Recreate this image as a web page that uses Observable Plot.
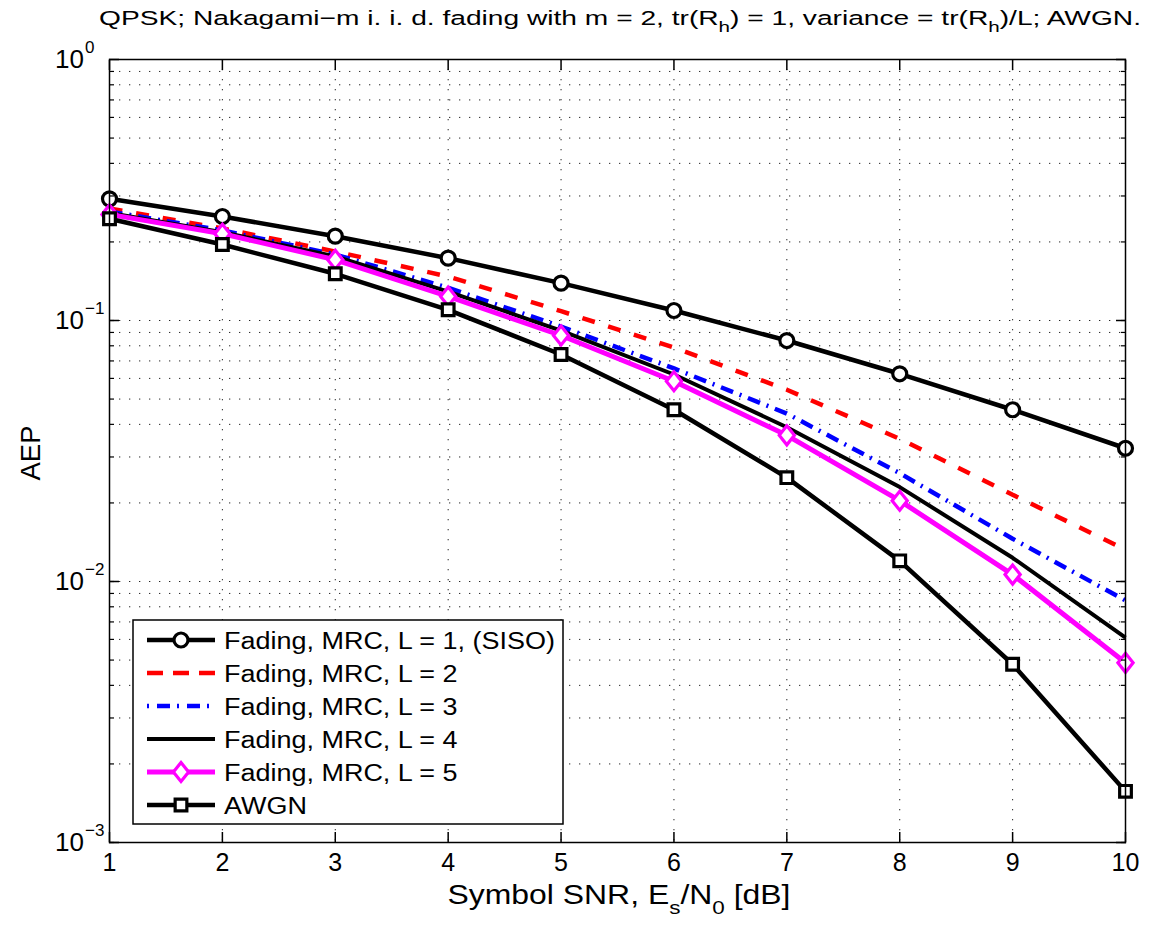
<!DOCTYPE html>
<html><head><meta charset="utf-8">
<script src="https://cdn.jsdelivr.net/npm/d3@7"></script>
<script src="https://cdn.jsdelivr.net/npm/@observablehq/plot@0.6"></script>
<style>
body{margin:0;background:#fff;}
svg{font-family:"Liberation Sans",Arial,Helvetica,sans-serif;}
</style>
</head><body><div id="chart"></div>
<script>
// ---- data ----
const snr = [1, 2, 3, 4, 5, 6, 7, 8, 9, 10];
const aepL1 = [0.2925, 0.2503, 0.2104, 0.1733, 0.1390, 0.1092, 0.0838, 0.0625, 0.0455, 0.0324];
const aepL2 = [0.2686, 0.2252, 0.1838, 0.1474, 0.1086, 0.0788, 0.0543, 0.0352, 0.0215, 0.01323];
const aepL3 = [0.2616, 0.2213, 0.1790, 0.1334, 0.0948, 0.0655, 0.0440, 0.0260, 0.01458, 0.00846];
const aepL4 = [0.2580, 0.2180, 0.1760, 0.1290, 0.0915, 0.0621, 0.0390, 0.0230, 0.01233, 0.00609];
const aepL5 = [0.2550, 0.2150, 0.1709, 0.1236, 0.0876, 0.0585, 0.0363, 0.0204, 0.01063, 0.00488];
const aepAWGN = [0.2453, 0.1955, 0.1510, 0.1099, 0.0741, 0.0455, 0.0250, 0.0120, 0.00482, 0.00157];
const seriesNames = ["Fading, MRC, L = 1, (SISO)", "Fading, MRC, L = 2", "Fading, MRC, L = 3",
                     "Fading, MRC, L = 4", "Fading, MRC, L = 5", "AWGN"];
const xTickValues = [1, 2, 3, 4, 5, 6, 7, 8, 9, 10];
const yTickValues = [1, 0.1, 0.01, 0.001];
const yTickExponents = ["0", "\u22121", "\u22122", "\u22123"];
const titleText = "QPSK; Nakagami\u2212m i. i. d. fading with m = 2, tr(R";

// ---- styles ----
const diamondSym = {draw(ctx, size) {
  const r = Math.sqrt(size / Math.PI), w = r * 0.8;
  ctx.moveTo(0, -r); ctx.lineTo(w, 0); ctx.lineTo(0, r); ctx.lineTo(-w, 0); ctx.closePath();
}};
const allValues = [aepL1, aepL2, aepL3, aepL4, aepL5, aepAWGN];
const styles = [
  {stroke: "#000", width: 4.5, dash: null, symbol: "circle", r: 7},
  {stroke: "#ff0000", width: 4.5, dash: "13,14", symbol: null},
  {stroke: "#0000ff", width: 4.5, dash: "13,7,2,7", symbol: null},
  {stroke: "#000", width: 4, dash: null, symbol: null},
  {stroke: "#ff00ff", width: 5, dash: null, symbol: diamondSym, r: 9.5},
  {stroke: "#000", width: 4.5, dash: null, symbol: "square", r: 6.6}
];
const series = seriesNames.map((name, k) => ({name, ...styles[k],
  data: snr.map((x, i) => ({snr: x, aep: allValues[k][i]}))}));

// grid values
const minorY = [];
for (let e = -3; e < 0; e++) for (let m = 1; m <= 9; m++) minorY.push(m * Math.pow(10, e));
const gridY = minorY.filter(v => v > 0.001);
const gridX = xTickValues.filter(v => v > 1 && v < 10);

const W = 1154, H = 926;
const font = '"Liberation Sans",Arial,Helvetica,sans-serif';
const gridStyle = {stroke: "#000", strokeWidth: 1, strokeDasharray: "1.3,8.7", strokeOpacity: 0.85};

const marks = [
  Plot.ruleX(gridX, gridStyle),
  Plot.ruleY(gridY, gridStyle),
];
for (const s of series) {
  marks.push(Plot.line(s.data, {x: "snr", y: "aep", stroke: s.stroke, strokeWidth: s.width,
    strokeDasharray: s.dash, strokeLinejoin: "miter", strokeLinecap: "butt"}));
  if (s.symbol) marks.push(Plot.dot(s.data, {x: "snr", y: "aep", symbol: s.symbol, r: s.r,
    stroke: s.stroke, strokeWidth: 3.2, fill: "white"}));
}
marks.push(
  Plot.frame({stroke: "#000", strokeWidth: 1.5}),
  Plot.axisX(xTickValues, {anchor: "bottom", tickSize: -10, tickFormat: () => "", label: null, strokeWidth: 1.5}),
  Plot.axisX(xTickValues, {anchor: "top", tickSize: -10, tickFormat: () => "", label: null, strokeWidth: 1.5}),
  Plot.axisY(yTickValues, {anchor: "left", tickSize: -10, tickFormat: () => "", label: null, strokeWidth: 1.5}),
  Plot.axisY(yTickValues, {anchor: "right", tickSize: -10, tickFormat: () => "", label: null, strokeWidth: 1.5}),
  Plot.axisY(minorY, {anchor: "left", tickSize: -5, tickFormat: () => "", label: null, strokeWidth: 1.2}),
  Plot.axisY(minorY, {anchor: "right", tickSize: -5, tickFormat: () => "", label: null, strokeWidth: 1.2}),
  Plot.axisX(xTickValues, {anchor: "bottom", tickSize: 0, tickPadding: 11, fontSize: 25, label: null, fill: "#000"})
);

const plot = Plot.plot({
  width: W, height: H,
  marginLeft: 109, marginRight: 29, marginTop: 59, marginBottom: 84,
  style: {fontFamily: font, background: "white", color: "#000", overflow: "visible"},
  x: {domain: [1, 10], label: null},
  y: {type: "log", domain: [0.001, 1], label: null},
  marks
});
document.getElementById("chart").appendChild(plot);

// ---- texts with super/subscripts ----
const svg = d3.select(plot);
const ys = plot.scale("y");
const g = svg.append("g").attr("font-family", font).attr("fill", "#000");

yTickValues.forEach((v, i) => {
  const y = ys.apply(v);
  g.append("text").attr("x", 84).attr("y", y + 9).attr("text-anchor", "end")
    .attr("font-size", 26).text("10");
  g.append("text").attr("x", 85).attr("y", y - 6).attr("text-anchor", "start")
    .attr("font-size", 17).text(yTickExponents[i]);
});

function fit(sel, target) {
  sel.attr("textLength", target).attr("lengthAdjust", "spacingAndGlyphs");
}

// title
const title = g.append("text").attr("x", 620).attr("y", 25).attr("text-anchor", "middle").attr("font-size", 20.5);
title.append("tspan").text(titleText);
title.append("tspan").attr("font-size", 15).attr("dy", 7).text("h");
title.append("tspan").attr("dy", -7).text(") = 1, variance = tr(R");
title.append("tspan").attr("font-size", 15).attr("dy", 7).text("h");
title.append("tspan").attr("dy", -7).text(")/L; AWGN.");
fit(title, 1042);

// x label
const xl = g.append("text").attr("x", 619).attr("y", 904).attr("text-anchor", "middle").attr("font-size", 27);
xl.append("tspan").text("Symbol SNR, E");
xl.append("tspan").attr("font-size", 19).attr("dy", 10).text("s");
xl.append("tspan").attr("dy", -10).text("/N");
xl.append("tspan").attr("font-size", 19).attr("dy", 10).text("0");
xl.append("tspan").attr("dy", -10).text(" [dB]");
fit(xl, 343);

// y label
const yl = g.append("text").attr("transform", "translate(40,453) rotate(-90)").attr("text-anchor", "middle")
  .attr("font-size", 27).text("AEP");
fit(yl, 55);

// ---- legend ----
const lg = svg.append("g").attr("font-family", font);
lg.append("rect").attr("x", 133).attr("y", 620).attr("width", 430).attr("height", 204)
  .attr("fill", "white").attr("stroke", "#000").attr("stroke-width", 1.5);
const legendTexts = [];
series.forEach((s, i) => {
  const cy = 640 + i * 33;
  lg.append("line").attr("x1", 147).attr("x2", 215).attr("y1", cy).attr("y2", cy)
    .attr("stroke", s.stroke).attr("stroke-width", s.width)
    .attr("stroke-dasharray", s.dash ? (i === 1 ? "16,10" : "2,8,13,7") : null);
  if (s.symbol) {
    const symObj = s.symbol === "circle" ? d3.symbolCircle : s.symbol === "square" ? d3.symbolSquare : s.symbol;
    lg.append("path").attr("transform", `translate(181,${cy})`)
      .attr("d", d3.symbol(symObj, Math.PI * s.r * s.r)())
      .attr("fill", "white").attr("stroke", s.stroke).attr("stroke-width", 3.2);
  }
  legendTexts.push(lg.append("text").attr("x", 224).attr("y", cy + 8.5).attr("text-anchor", "start")
    .attr("font-size", 23.5).attr("fill", "#000").text(s.name));
});
const k = 331 / legendTexts[0].node().getComputedTextLength();
legendTexts.forEach(t => fit(t, t.node().getComputedTextLength() * k));
</script>
</body></html>
